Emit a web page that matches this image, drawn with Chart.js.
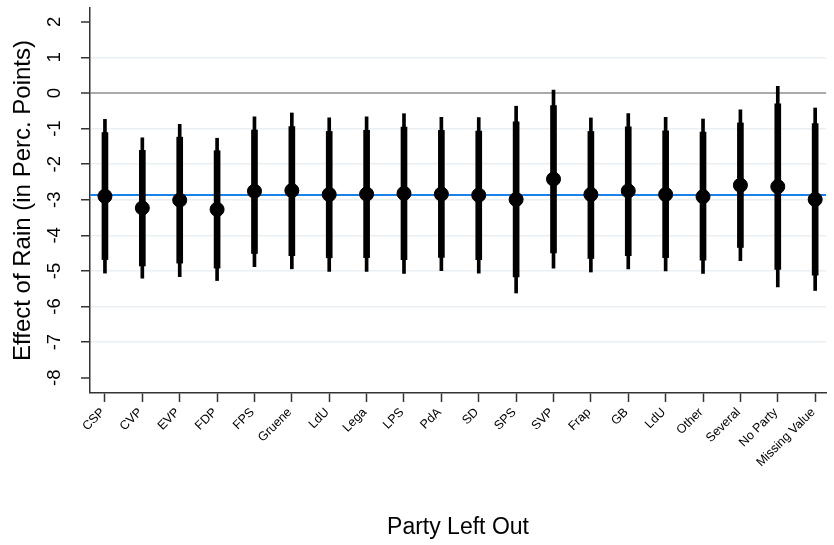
<!DOCTYPE html>
<html>
<head>
<meta charset="utf-8">
<script src="https://cdn.jsdelivr.net/npm/chart.js@4.4.1/dist/chart.umd.min.js"></script>
<style>
  body { margin: 0; background: #fff; }
  #wrap { width: 834px; height: 545px; }
</style>
</head>
<body>
<div id="wrap"><canvas id="myChart" width="834" height="545"></canvas></div>
<script>
// party left out of the estimation
var parties = ['CSP', 'CVP', 'EVP', 'FDP', 'FPS', 'Gruene', 'LdU', 'Lega', 'LPS', 'PdA',
  'SD', 'SPS', 'SVP', 'Frap', 'GB', 'LdU', 'Other', 'Several', 'No Party', 'Missing Value'];

// point estimates
var effect = [-2.90, -3.23, -3.01, -3.27, -2.76, -2.74, -2.85, -2.84, -2.82, -2.84,
  -2.87, -2.99, -2.42, -2.85, -2.75, -2.85, -2.91, -2.59, -2.63, -2.99];

// inner (thick) interval
var thickHi = [-1.11, -1.61, -1.24, -1.62, -1.04, -0.94, -1.08, -1.05, -0.96, -1.05,
  -1.07, -0.81, -0.35, -1.08, -0.95, -1.06, -1.10, -0.84, -0.30, -0.86];
var thickLo = [-4.68, -4.86, -4.78, -4.92, -4.51, -4.57, -4.63, -4.63, -4.68, -4.62,
  -4.68, -5.17, -4.49, -4.65, -4.57, -4.63, -4.70, -4.34, -4.96, -5.12];

// outer (thin) interval
var thinHi = [-0.74, -1.26, -0.88, -1.27, -0.67, -0.56, -0.70, -0.67, -0.58, -0.68,
  -0.69, -0.37, 0.08, -0.70, -0.58, -0.68, -0.73, -0.47, 0.19, -0.42];
var thinLo = [-5.06, -5.20, -5.16, -5.27, -4.88, -4.94, -5.01, -5.01, -5.07, -4.99,
  -5.06, -5.62, -4.92, -5.03, -4.94, -5.00, -5.07, -4.71, -5.45, -5.55];

// full-sample estimate (blue reference line)
var pooled = -2.865;

var yTicks = [2, 1, 0, -1, -2, -3, -4, -5, -6, -7, -8];
var xMin = 0.6, xMax = 20.29;
var yMin = -8.43, yMax = 2.39;

var FONT = "'Liberation Sans', Arial, sans-serif";

function interval(lo, hi) {
  var out = [];
  for (var i = 0; i < parties.length; i++) {
    out.push({ x: i + 1, y: [lo[i], hi[i]] });
  }
  return out;
}

var points = [];
for (var i = 0; i < effect.length; i++) {
  points.push({ x: i + 1, y: effect[i] });
}

// y tick labels are drawn turned sideways, like the stata output
var sidewaysTicks = {
  id: 'sidewaysTicks',
  afterDraw: function (chart) {
    var s = chart.scales.y;
    var c = chart.ctx;
    c.save();
    c.fillStyle = '#000';
    c.font = '18.5px ' + FONT;
    c.textAlign = 'center';
    c.textBaseline = 'middle';
    yTicks.forEach(function (v) {
      var y = s.getPixelForValue(v);
      c.save();
      c.translate(s.right - 35, y);
      c.rotate(-Math.PI / 2);
      c.fillText(String(v), 0, 0);
      c.restore();
    });
    c.restore();
  }
};

var ctx = document.getElementById('myChart').getContext('2d');
new Chart(ctx, {
  type: 'bar',
  data: {
    datasets: [
      {
        type: 'line',
        data: points,
        showLine: false,
        pointRadius: 7,
        pointBorderWidth: 1,
        pointBackgroundColor: '#000',
        pointBorderColor: '#000',
        order: 0
      },
      {
        data: interval(thickLo, thickHi),
        backgroundColor: '#000',
        barThickness: 6,
        grouped: false,
        order: 1
      },
      {
        data: interval(thinLo, thinHi),
        backgroundColor: '#000',
        barThickness: 3,
        grouped: false,
        order: 2
      },
      {
        type: 'line',
        data: [{ x: xMin, y: pooled }, { x: xMax, y: pooled }],
        borderColor: '#1a80ea',
        borderWidth: 2,
        pointRadius: 0,
        order: 3
      }
    ]
  },
  plugins: [sidewaysTicks],
  options: {
    responsive: false,
    animation: false,
    events: [],
    layout: { padding: { top: 7, left: 0, right: 0, bottom: 0 } },
    plugins: { legend: { display: false }, tooltip: { enabled: false } },
    scales: {
      x: {
        type: 'linear',
        min: xMin,
        max: xMax,
        offset: false,
        afterBuildTicks: function (s) {
          s.ticks = parties.map(function (p, i) { return { value: i + 1 }; });
        },
        afterFit: function (s) {
          s.height = 152;
          s.paddingLeft = 0;
          s.paddingRight = 0;
        },
        grid: {
          offset: false,
          drawOnChartArea: false,
          drawTicks: true,
          tickLength: 9,
          tickColor: '#333',
          tickWidth: 1.5
        },
        border: { display: true, color: '#333', width: 1.5 },
        ticks: {
          autoSkip: false,
          minRotation: 45,
          maxRotation: 45,
          padding: 3,
          labelOffset: -2,
          color: '#000',
          font: { family: FONT, size: 12.5 },
          callback: function (v) { return parties[v - 1]; }
        },
        title: {
          display: true,
          text: 'Party Left Out',
          color: '#000',
          font: { family: FONT, size: 23 },
          padding: { top: 0, bottom: 4 }
        }
      },
      y: {
        type: 'linear',
        min: yMin,
        max: yMax,
        afterBuildTicks: function (s) {
          s.ticks = yTicks.map(function (v) { return { value: v }; });
        },
        afterFit: function (s) {
          s.width = 90;
          s.paddingTop = 0;
          s.paddingBottom = 0;
        },
        grid: {
          drawTicks: true,
          tickLength: 9,
          tickColor: '#333',
          tickWidth: 1.5,
          color: function (c) {
            if (c.tick && c.tick.value === 0) return '#aaaaaa';
            return '#e9eff3';
          },
          lineWidth: function (c) {
            if (!c.tick) return 0;
            var v = c.tick.value;
            if (v === yTicks[0] || v === yTicks[yTicks.length - 1]) return 0;
            return v === 0 ? 2 : 1.5;
          }
        },
        border: { display: true, color: '#333', width: 1.5 },
        ticks: {
          color: 'rgba(0,0,0,0)',
          font: { family: FONT, size: 18 }
        },
        title: {
          display: true,
          text: 'Effect of Rain (in Perc. Points)',
          color: '#000',
          font: { family: FONT, size: 24 },
          padding: { top: 9, bottom: 0 }
        }
      }
    }
  }
});
</script>
</body>
</html>
